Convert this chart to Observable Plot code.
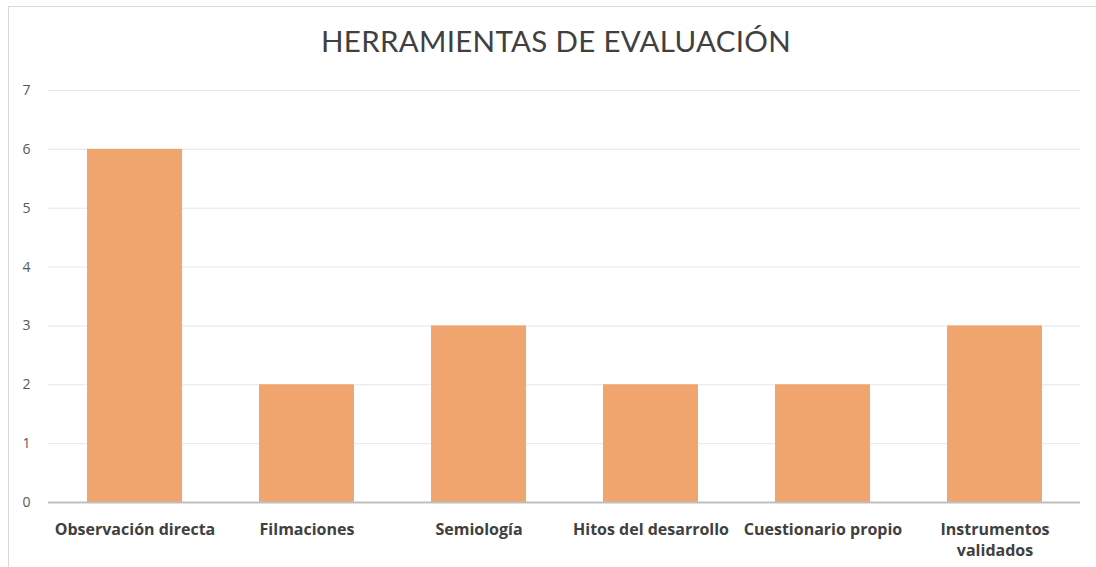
<!DOCTYPE html>
<html>
<head>
<meta charset="utf-8">
<script src="https://cdn.jsdelivr.net/npm/d3@7"></script>
<script src="https://cdn.jsdelivr.net/npm/@observablehq/plot@0.6"></script>
<style>
  html, body { margin: 0; padding: 0; background: #fff; }
  #wrap { position: relative; width: 1096px; height: 567px; overflow: hidden; font-family: Lato, "Open Sans", sans-serif; }
  #frame { position: absolute; left: 8px; top: 6px; width: 1100px; height: 600px; border: 1px solid #d9d9d9; box-sizing: border-box; }
  #title { position: absolute; left: 0; top: 23px; width: 1112px; text-align: center; font-size: 29.5px; color: #404040; font-weight: 400; letter-spacing: 0.3px; }
  #chart { position: absolute; left: 0; top: 70px; }
</style>
</head>
<body>
<div id="wrap">
  <div id="frame"></div>
  <div id="title">HERRAMIENTAS DE EVALUACIÓN</div>
  <div id="chart"></div>
</div>
<script>
const categories = ["Observación directa", "Filmaciones", "Semiología", "Hitos del desarrollo", "Cuestionario propio", "Instrumentos\nvalidados"];
const values = [6, 2, 3, 2, 2, 3];
const yTicks = [0, 1, 2, 3, 4, 5, 6, 7];

const data = categories.map((c, i) => ({category: c, value: values[i]}));

const plot = Plot.plot({
  width: 1096,
  height: 497,
  marginLeft: 48,
  marginRight: 16,
  marginTop: 20,
  marginBottom: 65,
  style: {fontFamily: "'Open Sans', Lato, sans-serif", background: "transparent"},
  x: {domain: categories, paddingInner: 0.45, paddingOuter: 0.225, label: null},
  y: {domain: [0, 7], label: null},
  marks: [
    Plot.gridY(yTicks.filter(d => d > 0), {stroke: "#e6e6e6", strokeOpacity: 1, strokeWidth: 1}),
    Plot.barY(data, {x: "category", y: "value", fill: "#F0A46E"}),
    Plot.ruleY([0], {stroke: "#bfbfbf", strokeWidth: 2}),
    Plot.axisY(yTicks, {tickSize: 0, tickPadding: 18, fontSize: 14, fill: "#595959", textAnchor: "end", tickFormat: "d", label: null}),
    Plot.axisX({tickSize: 0, tickPadding: 17, fontSize: 16, fontWeight: "bold", fill: "#404040", label: null, lineHeight: 1.35})
  ]
});
document.getElementById("chart").appendChild(plot);
</script>
</body>
</html>
